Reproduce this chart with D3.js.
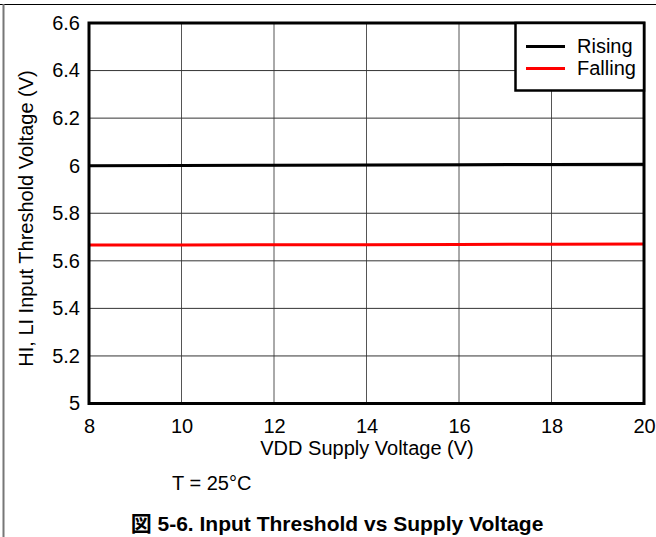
<!DOCTYPE html>
<html><head><meta charset="utf-8">
<script src="https://cdn.jsdelivr.net/npm/d3@7"></script>
<style>body{margin:0;background:#fff}svg{display:block;font-family:"Liberation Sans",Arial,sans-serif}</style>
</head><body><svg id="c" width="656" height="537"></svg>
<script>
const supplyVoltage = [8, 10, 12, 14, 16, 18, 20];
const risingThreshold = [6.000, 6.001, 6.002, 6.003, 6.004, 6.005, 6.006];
const fallingThreshold = [5.666, 5.667, 5.668, 5.668, 5.669, 5.670, 5.671];
const xTicks = [8, 10, 12, 14, 16, 18, 20];
const yTicks = [5, 5.2, 5.4, 5.6, 5.8, 6, 6.2, 6.4, 6.6];
const seriesNames = ["Rising", "Falling"];
const seriesColors = ["#000000", "#ff0000"];

const svg = d3.select("#c");
const L = 89, R = 644, T = 23, B = 403.5;
const FS = 20;
const x = d3.scaleLinear().domain([8, 20]).range([L, R]);
const y = d3.scaleLinear().domain([5, 6.6]).range([B, T]);

// page frame
svg.append("line").attr("x1", 0).attr("x2", 656).attr("y1", 4.5).attr("y2", 4.5).attr("stroke", "#000").attr("stroke-width", 1);
svg.append("line").attr("x1", 3.5).attr("x2", 3.5).attr("y1", 4).attr("y2", 537).attr("stroke", "#777").attr("stroke-width", 2);

// grid
svg.append("g").selectAll("line").data(xTicks.slice(1, -1)).join("line")
  .attr("x1", d => x(d)).attr("x2", d => x(d)).attr("y1", T).attr("y2", B)
  .attr("stroke", "#555").attr("stroke-width", 1);
svg.append("g").selectAll("line").data(yTicks.slice(1, -1)).join("line")
  .attr("x1", L).attr("x2", R).attr("y1", d => y(d)).attr("y2", d => y(d))
  .attr("stroke", "#333").attr("stroke-width", 1);

// axes labels via d3 axes
const xAxis = svg.append("g").attr("transform", `translate(0,${B})`)
  .call(d3.axisBottom(x).tickValues(xTicks).tickSize(0).tickPadding(15.5).tickFormat(d3.format("d")));
xAxis.select(".domain").remove();
xAxis.selectAll("text").attr("font-size", FS).attr("fill", "#000").attr("font-family", "Liberation Sans, Arial, sans-serif");
const yAxis = svg.append("g").attr("transform", `translate(${L},0)`)
  .call(d3.axisLeft(y).tickValues(yTicks).tickSize(0).tickPadding(9).tickFormat(d => String(+d.toFixed(1))));
yAxis.select(".domain").remove();
yAxis.selectAll("text").attr("font-size", FS).attr("fill", "#000").attr("font-family", "Liberation Sans, Arial, sans-serif");

// lines
const line = d3.line().x((d, i) => x(supplyVoltage[i])).y(d => y(d));
[risingThreshold, fallingThreshold].forEach((s, k) => {
  svg.append("path").datum(s).attr("d", line).attr("fill", "none")
    .attr("stroke", seriesColors[k]).attr("stroke-width", 3);
});

// plot frame
svg.append("rect").attr("x", L).attr("y", T).attr("width", R - L).attr("height", B - T)
  .attr("fill", "none").attr("stroke", "#000").attr("stroke-width", 3);

// legend
svg.append("rect").attr("x", 515.5).attr("y", 23).attr("width", 128.5).attr("height", 67.5)
  .attr("fill", "#fff").attr("stroke", "#000").attr("stroke-width", 2.5);
seriesNames.forEach((n, k) => {
  const yy = 46.5 + k * 22;
  svg.append("line").attr("x1", 526).attr("x2", 565).attr("y1", yy).attr("y2", yy)
    .attr("stroke", seriesColors[k]).attr("stroke-width", 3);
  svg.append("text").attr("x", 577).attr("y", yy + 6.5).attr("font-size", FS).text(n);
});

// titles
svg.append("text").attr("x", 367).attr("y", 455).attr("text-anchor", "middle").attr("font-size", FS)
  .text("VDD Supply Voltage (V)");
svg.append("text").attr("transform", `translate(33,218.5) rotate(-90)`)
  .attr("text-anchor", "middle").attr("font-size", FS).text("HI, LI Input Threshold Voltage (V)");
svg.append("text").attr("x", 172).attr("y", 490).attr("font-size", FS).text("T = 25°C");
svg.append("text").attr("x", 337).attr("y", 531).attr("text-anchor", "middle").attr("font-size", 21)
  .attr("font-weight", "bold").attr("font-family", "'Liberation Sans','Noto Sans CJK JP',sans-serif")
  .text("図 5-6. Input Threshold vs Supply Voltage");
</script></body></html>
